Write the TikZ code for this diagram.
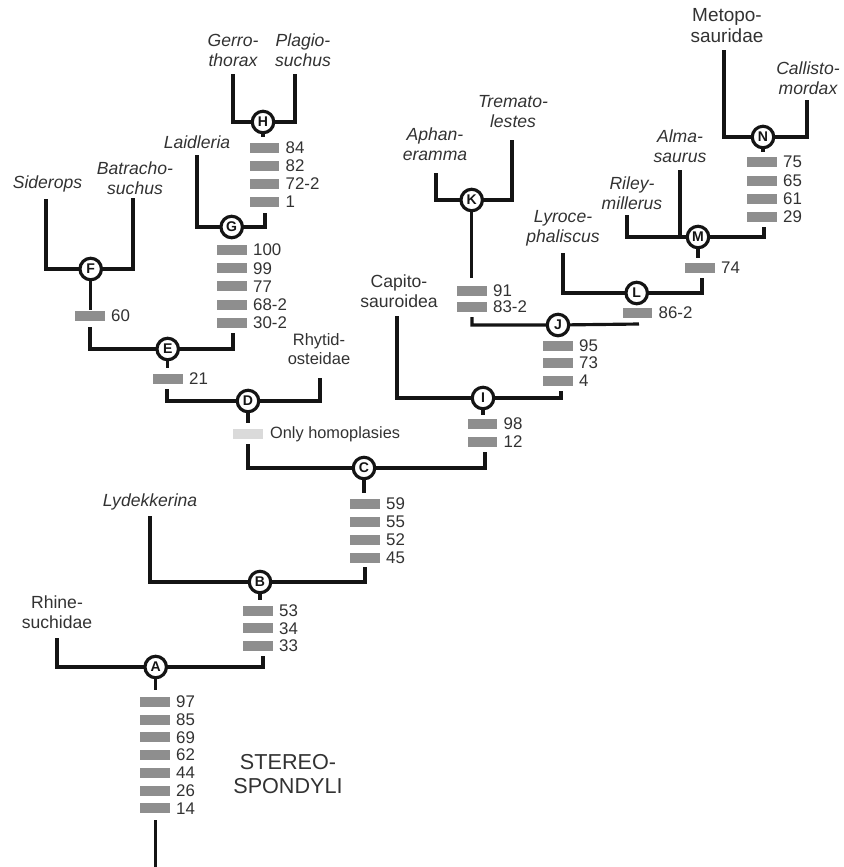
\documentclass[tikz,border=0pt]{standalone}
\usepackage{fontspec}
\setmainfont{Liberation Sans}
\definecolor{barg}{RGB}{142,142,142}
\definecolor{barl}{RGB}{218,218,218}
\definecolor{ink}{RGB}{20,20,20}
\definecolor{txt}{RGB}{50,50,50}
\tikzset{
  branch/.style={draw=ink, line width=1.8pt, line join=miter, line cap=butt},
  clade/.style={circle, draw=ink, fill=white, line width=1.8pt, minimum size=0.43cm, inner sep=0pt, font=\fontsize{8}{8}\selectfont\bfseries, text=ink},
  bar/.style={rectangle, fill=barg, minimum width=0.6cm, minimum height=0.2cm, inner sep=0pt},
  lbar/.style={bar, fill=barl},
  num/.style={inner sep=0pt, anchor=west, text=txt, font=\fontsize{9.6}{10}\selectfont},
  taxon/.style={align=center, inner sep=0pt, text=txt, font=\fontsize{10}{11.4}\selectfont\itshape},
  group/.style={align=center, inner sep=0pt, text=txt, font=\fontsize{10}{11.4}\selectfont},
  title/.style={align=center, inner sep=0pt, text=txt, font=\fontsize{12.3}{13.8}\selectfont}
}
\newcommand{\cbar}[4]{\node[bar] (#1) at (#2,#3) {}; \node[num] (#1t) at ([xshift=0.11cm]#1.east) {#4};}
\begin{document}
\begin{tikzpicture}[x=0.02cm,y=-0.02cm]
\useasboundingbox (0,0) rectangle (844,867);

% ---------- circles (positions) ----------
\coordinate (Ac) at (155.7,667);
\coordinate (Bc) at (260,582);
\coordinate (Cc) at (364,468);
\coordinate (Dc) at (248,401);
\coordinate (Ec) at (167.7,349);
\coordinate (Fc) at (90.7,269);
\coordinate (Gc) at (231.7,227);
\coordinate (Hc) at (263,122);
\coordinate (Ic) at (483,398);
\coordinate (Jc) at (558,325);
\coordinate (Kc) at (471.7,200);
\coordinate (Lc) at (636.7,293);
\coordinate (Mc) at (698,237);
\coordinate (Nc) at (763,137);

% ---------- branch end points ----------
\coordinate (root) at (155.7,867);
\coordinate (rootTop) at (155.7,820);
\coordinate (tRhine) at (57,638);
\coordinate (tA) at (263,656);
\coordinate (tLyd) at (150,516);
\coordinate (tB) at (365,567);
\coordinate (tCl) at (248,444);
\coordinate (tCr) at (485,452);
\coordinate (tDl) at (167,389);
\coordinate (tRhy) at (320,378);
\coordinate (tEl) at (90,327);
\coordinate (tEr) at (233,333);
\coordinate (tSid) at (46,199);
\coordinate (tBat) at (133,198);
\coordinate (tLai) at (197,155);
\coordinate (tGr) at (265,213);
\coordinate (tGer) at (233,74);
\coordinate (tPla) at (295,74);
\coordinate (tCap) at (397,316);
\coordinate (tIr) at (561,391);
\coordinate (tJl) at (472,317);
\coordinate (tJr) at (639,324);
\coordinate (tAph) at (436,173);
\coordinate (tTre) at (512,140);
\coordinate (tLyr) at (563,253);
\coordinate (tLr) at (702,278);
\coordinate (tRil) at (627,215);
\coordinate (tAlm) at (680,170);
\coordinate (tMr) at (764,227);
\coordinate (tMet) at (724,50);
\coordinate (tCal) at (807,100);

% ---------- branches ----------
\draw[branch] (rootTop) -- (root);
\draw[branch] (tRhine) |- (Ac) -| (tA);
\draw[branch] (Ac) -- ++(0,23);
\draw[branch] (tLyd) |- (Bc) -| (tB);
\draw[branch] (Bc) -- ++(0,18);
\draw[branch] (tCl) |- (Cc) -| (tCr);
\draw[branch] (Cc) -- ++(0,25);
\draw[branch] (tDl) |- (Dc) -| (tRhy);
\draw[branch] (Dc) -- ++(0,22);
\draw[branch] (tEl) |- (Ec) -| (tEr);
\draw[branch] (Ec) -- ++(0,19);
\draw[branch] (tSid) |- (Fc) -| (tBat);
\draw[branch] (Fc) -- ++(0,41);
\draw[branch] (tLai) |- (Gc) -| (tGr);
\draw[branch] (tGer) |- (Hc) -| (tPla);
\draw[branch] (Hc) -- ++(0,15);
\draw[branch] (tCap) |- (Ic) -| (tIr);
\draw[branch] (Ic) -- ++(0,17);
\draw[branch] (tJl) |- (Jc) -- (tJr);
\draw[branch] (tAph) |- (Kc) -| (tTre);
\draw[branch] (Kc) -- ++(0,78);
\draw[branch] (tLyr) |- (Lc) -| (tLr);
\draw[branch] (tRil) |- (Mc) -| (tMr);
\draw[branch] (tAlm) -- (tAlm |- Mc);
\draw[branch] (Mc) -- ++(0,21);
\draw[branch] (tMet) |- (Nc) -| (tCal);
\draw[branch] (Nc) -- ++(0,15);

% ---------- clade circles ----------
\foreach \n in {A,B,C,D,E,F,G,H,I,J,K,L,M,N}
  \node[clade] (\n) at (\n c) {\n};

% ---------- character bars ----------
\cbar{a1}{155}{702}{97}
\cbar{a2}{155}{719.7}{85}
\cbar{a3}{155}{737.4}{69}
\cbar{a4}{155}{755.1}{62}
\cbar{a5}{155}{772.8}{44}
\cbar{a6}{155}{790.5}{26}
\cbar{a7}{155}{808.2}{14}

\cbar{b1}{258}{610.5}{53}
\cbar{b2}{258}{628.2}{34}
\cbar{b3}{258}{645.9}{33}

\cbar{c1}{365}{504}{59}
\cbar{c2}{365}{522}{55}
\cbar{c3}{365}{540}{52}
\cbar{c4}{365}{558}{45}

\node[lbar] (d1) at (248,434) {};
\node[num, font=\fontsize{9.3}{10}\selectfont] (d1t) at ([xshift=0.13cm]d1.east) {Only homoplasies};

\cbar{e1}{168}{379}{21}
\cbar{f1}{90}{316}{60}

\cbar{g1}{232}{250}{100}
\cbar{g2}{232}{268.2}{99}
\cbar{g3}{232}{286.4}{77}
\cbar{g4}{232}{304.6}{68-2}
\cbar{g5}{232}{322.8}{30-2}

\cbar{h1}{264.5}{148}{84}
\cbar{h2}{264.5}{166}{82}
\cbar{h3}{264.5}{184}{72-2}
\cbar{h4}{264.5}{202}{1}

\cbar{i1}{482.5}{423.5}{98}
\cbar{i2}{482.5}{441.5}{12}

\cbar{j1}{558}{345.5}{95}
\cbar{j2}{558}{363}{73}
\cbar{j3}{558}{380.5}{4}

\cbar{k1}{472}{290.5}{91}
\cbar{k2}{472}{306.7}{83-2}

\cbar{l1}{637.5}{313}{86-2}
\cbar{m1}{700}{268}{74}

\cbar{n1}{762}{162}{75}
\cbar{n2}{762}{180.5}{65}
\cbar{n3}{762}{199}{61}
\cbar{n4}{762}{217}{29}

% ---------- taxon labels ----------
\node[taxon] (sid) at (47.5,184) {Siderops};
\node[taxon] (bat) at (135,178) {Batracho-\\suchus};
\node[taxon] (lai) at (197,142) {Laidleria};
\node[taxon] (ger) at (233,50) {Gerro-\\thorax};
\node[taxon] (pla) at (303,50) {Plagio-\\suchus};
\node[taxon] (lyd) at (150,502) {Lydekkerina};
\node[group] (rhi) at (57,612) {Rhine-\\suchidae};
\node[group, font=\fontsize{9.4}{11}\selectfont] (rhy) at (319,349) {Rhytid-\\osteidae};
\node[group] (cap) at (399,291) {Capito-\\sauroidea};
\node[taxon] (aph) at (435,144) {Aphan-\\eramma};
\node[taxon] (tre) at (513,112) {Tremato-\\lestes};
\node[taxon] (lyr) at (563,228) {Lyroce-\\phaliscus};
\node[taxon] (ril) at (632,193) {Riley-\\millerus};
\node[taxon] (alm) at (680,146) {Alma-\\saurus};
\node[group, font=\fontsize{10.8}{12}\selectfont] (met) at (727,25.5) {Metopo-\\sauridae};
\node[taxon] (cal) at (808,78) {Callisto-\\mordax};
\node[title] (ster) at (288,774) {STEREO-\\SPONDYLI};
\end{tikzpicture}
\end{document}
